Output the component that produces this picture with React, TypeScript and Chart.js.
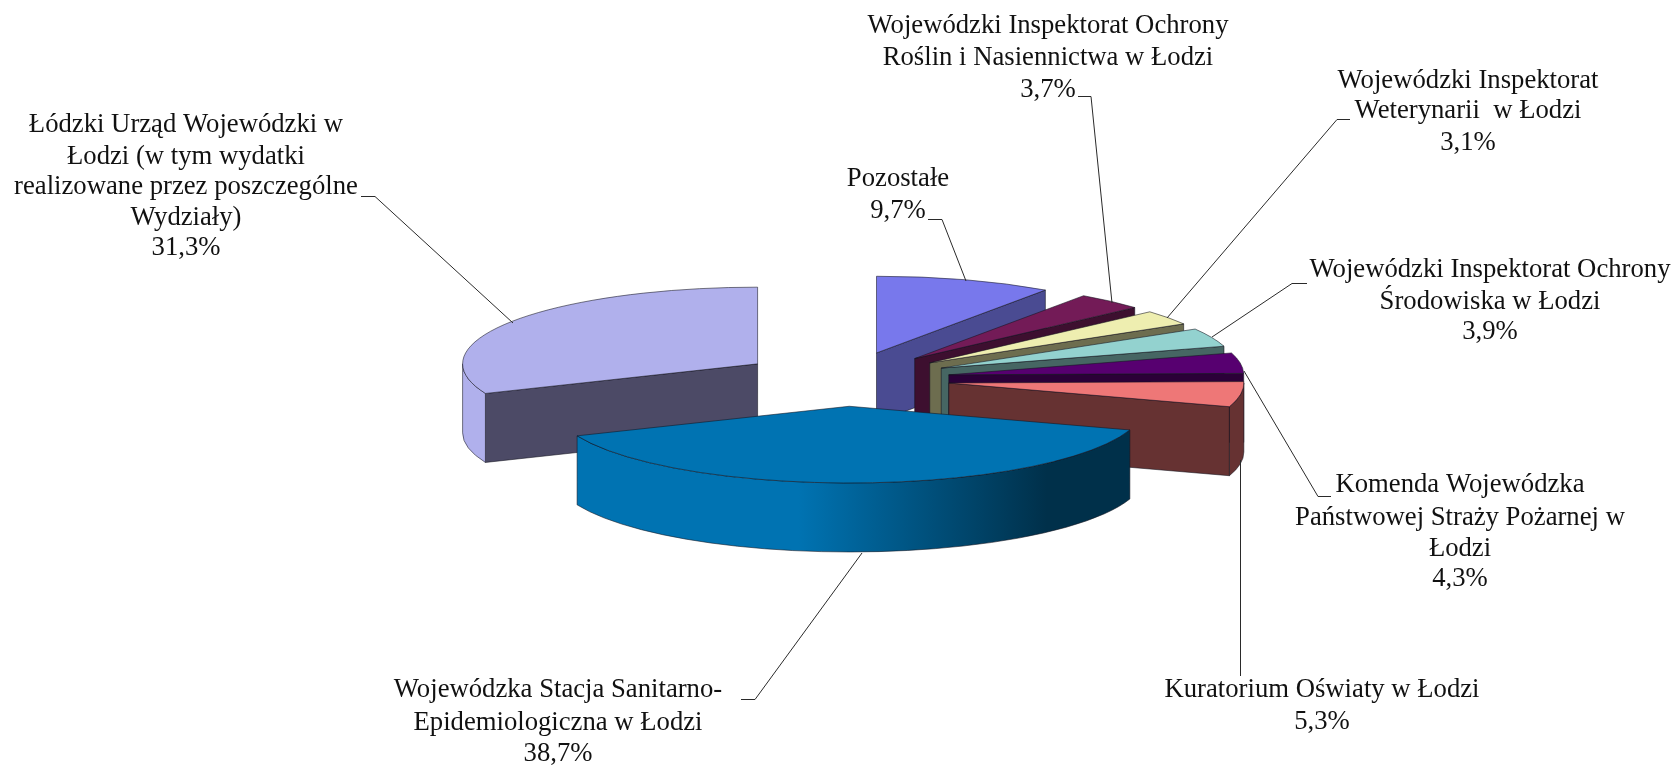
import React, { useEffect, useRef } from "react";
import { Chart, PieController, ArcElement, registerables } from "chart.js";

Chart.register(...registerables);

const categories: string[][] = [
  ["Pozostałe"],
  ["Wojewódzki Inspektorat Ochrony", "Roślin i Nasiennictwa w Łodzi"],
  ["Wojewódzki Inspektorat", "Weterynarii  w Łodzi"],
  ["Wojewódzki Inspektorat Ochrony", "Środowiska w Łodzi"],
  ["Komenda Wojewódzka", "Państwowej Straży Pożarnej w", "Łodzi"],
  ["Kuratorium Oświaty w Łodzi"],
  ["Wojewódzka Stacja Sanitarno-", "Epidemiologiczna w Łodzi"],
  ["Łódzki Urząd Wojewódzki w", "Łodzi (w tym wydatki", "realizowane przez poszczególne", "Wydziały)"],
];
const shares: number[] = [9.7, 3.7, 3.1, 3.9, 4.3, 5.3, 38.7, 31.3];
const topColors: string[] = ["#7878EC", "#731B57", "#EEEEB0", "#93D2CF", "#570070", "#EE7777", "#0073B2", "#B0B0EC"];
const wallColors: string[] = ["#4A4B92", "#3D0F2F", "#6D6D4F", "#466663", "#2B0038", "#663232", "#00304A", "#4C4A66"];

const W = 1677;
const H = 765;
const CENTER_X = 845;
const CENTER_Y = 379;
const RADIUS = 295;
const TILT = 0.26;
const DEPTH = 69;
const EXPLODE = 105;

// label placement: centre x, centre y of every line
const labelPlacement: { x: number; ys: number[] }[] = [
  { x: 898, ys: [179, 211] },
  { x: 1048, ys: [26, 58, 90] },
  { x: 1468, ys: [81, 111, 143] },
  { x: 1490, ys: [270, 302, 332] },
  { x: 1460, ys: [485, 518, 549, 579] },
  { x: 1322, ys: [690, 722] },
  { x: 558, ys: [690, 723, 754] },
  { x: 186, ys: [125, 157, 187, 218, 248] },
];
const leaders: number[][][] = [
  [[928, 219.5], [942, 219.5], [966, 281]],
  [[1078, 96.5], [1091, 96.5], [1112, 303]],
  [[1350, 119.5], [1337, 119.5], [1167, 318]],
  [[1307, 283.5], [1292, 283.5], [1212, 337]],
  [[1331, 496.5], [1318, 496.5], [1244, 371]],
  [[1240.5, 460], [1240.5, 676]],
  [[741, 699.5], [755, 699.5], [862, 553]],
  [[361, 196.5], [375, 196.5], [513, 323]],
];

class Arc3D extends ArcElement {
  static id = "arc3d";
  drawSlice(ctx: CanvasRenderingContext2D, i: number) {
    const { x, y, startAngle: a0, endAngle: a1 } = this as any;
    const mid = (a0 + a1) / 2;
    const cx = x + Math.cos(mid) * EXPLODE;
    const cy = y + Math.sin(mid) * EXPLODE * TILT;
    const px = (a: number) => cx + RADIUS * Math.cos(a);
    const py = (a: number) => cy + RADIUS * TILT * Math.sin(a);
    ctx.save();
    ctx.lineWidth = 0.8;
    ctx.strokeStyle = "rgba(20,20,30,0.7)";
    ctx.lineJoin = "round";

    const wall = (a: number) => {
      ctx.beginPath();
      ctx.moveTo(cx, cy);
      ctx.lineTo(px(a), py(a));
      ctx.lineTo(px(a), py(a) + DEPTH);
      ctx.lineTo(cx, cy + DEPTH);
      ctx.closePath();
      ctx.fillStyle = wallColors[i];
      ctx.fill();
      ctx.stroke();
    };
    if (-Math.cos(a0) > 0.001) wall(a0);
    if (Math.cos(a1) > 0.001) wall(a1);

    const s = Math.max(a0, 0);
    const e = Math.min(a1, Math.PI);
    if (e > s) {
      ctx.beginPath();
      ctx.ellipse(cx, cy, RADIUS, RADIUS * TILT, 0, s, e, false);
      ctx.ellipse(cx, cy + DEPTH, RADIUS, RADIUS * TILT, 0, e, s, true);
      ctx.closePath();
      const isLarge = e - s > 1;
      if (isLarge) {
        const g = ctx.createLinearGradient(px(e), 0, px(s), 0);
        g.addColorStop(0, topColors[i]);
        g.addColorStop(0.4, topColors[i]);
        g.addColorStop(0.85, wallColors[i]);
        g.addColorStop(1, wallColors[i]);
        ctx.fillStyle = g;
      } else {
        ctx.fillStyle = i === shares.length - 1 ? topColors[i] : wallColors[i];
      }
      ctx.fill();
      ctx.stroke();
    }

    ctx.beginPath();
    ctx.moveTo(cx, cy);
    ctx.ellipse(cx, cy, RADIUS, RADIUS * TILT, 0, a0, a1, false);
    ctx.closePath();
    ctx.fillStyle = topColors[i];
    ctx.fill();
    ctx.stroke();
    ctx.restore();
  }
  draw() {}
}

class Pie3DController extends PieController {
  static id = "pie3d";
  static defaults = { dataElementType: "arc3d" };
  draw() {
    const ctx = this.chart.ctx;
    const els = this._cachedMeta.data as any[];
    const order = els
      .map((_, i) => i)
      .sort((p, q) => {
        const m = (el: any) => Math.sin((el.startAngle + el.endAngle) / 2);
        return m(els[p]) - m(els[q]);
      });
    for (const i of order) els[i].drawSlice(ctx, i);
  }
}

Chart.register(Arc3D as any, Pie3DController as any);

const labelPlugin = {
  id: "sliceLabels",
  afterDraw(chart: any) {
    const ctx: CanvasRenderingContext2D = chart.ctx;
    ctx.save();
    ctx.strokeStyle = "#2a2a2a";
    ctx.lineWidth = 1;
    for (const pts of leaders) {
      ctx.beginPath();
      pts.forEach((p, j) => (j ? ctx.lineTo(p[0], p[1]) : ctx.moveTo(p[0], p[1])));
      ctx.stroke();
    }
    ctx.fillStyle = "#111";
    ctx.font = '26.7px "Liberation Serif"';
    ctx.textAlign = "center";
    ctx.textBaseline = "middle";
    categories.forEach((lines, i) => {
      const all = [...lines, shares[i].toFixed(1).replace(".", ",") + "%"];
      all.forEach((t, j) => ctx.fillText(t, labelPlacement[i].x, labelPlacement[i].ys[j]));
    });
    ctx.restore();
  },
};

export default function App() {
  const ref = useRef<HTMLCanvasElement>(null);
  useEffect(() => {
    document.body.style.margin = "0";
    document.body.style.background = "#fff";
    const chart = new Chart(ref.current!, {
      type: "pie3d" as any,
      data: {
        labels: categories.map((c) => c.join(" ")),
        datasets: [{ data: shares, backgroundColor: topColors, borderColor: wallColors }],
      },
      options: {
        responsive: false,
        animation: false,
        layout: { padding: { left: CENTER_X * 2 - W, bottom: H - CENTER_Y * 2 } },
        plugins: { legend: { display: false }, tooltip: { enabled: false } },
      },
      plugins: [labelPlugin],
    } as any);
    return () => chart.destroy();
  }, []);
  return <canvas ref={ref} width={W} height={H} style={{ display: "block" }} />;
}
